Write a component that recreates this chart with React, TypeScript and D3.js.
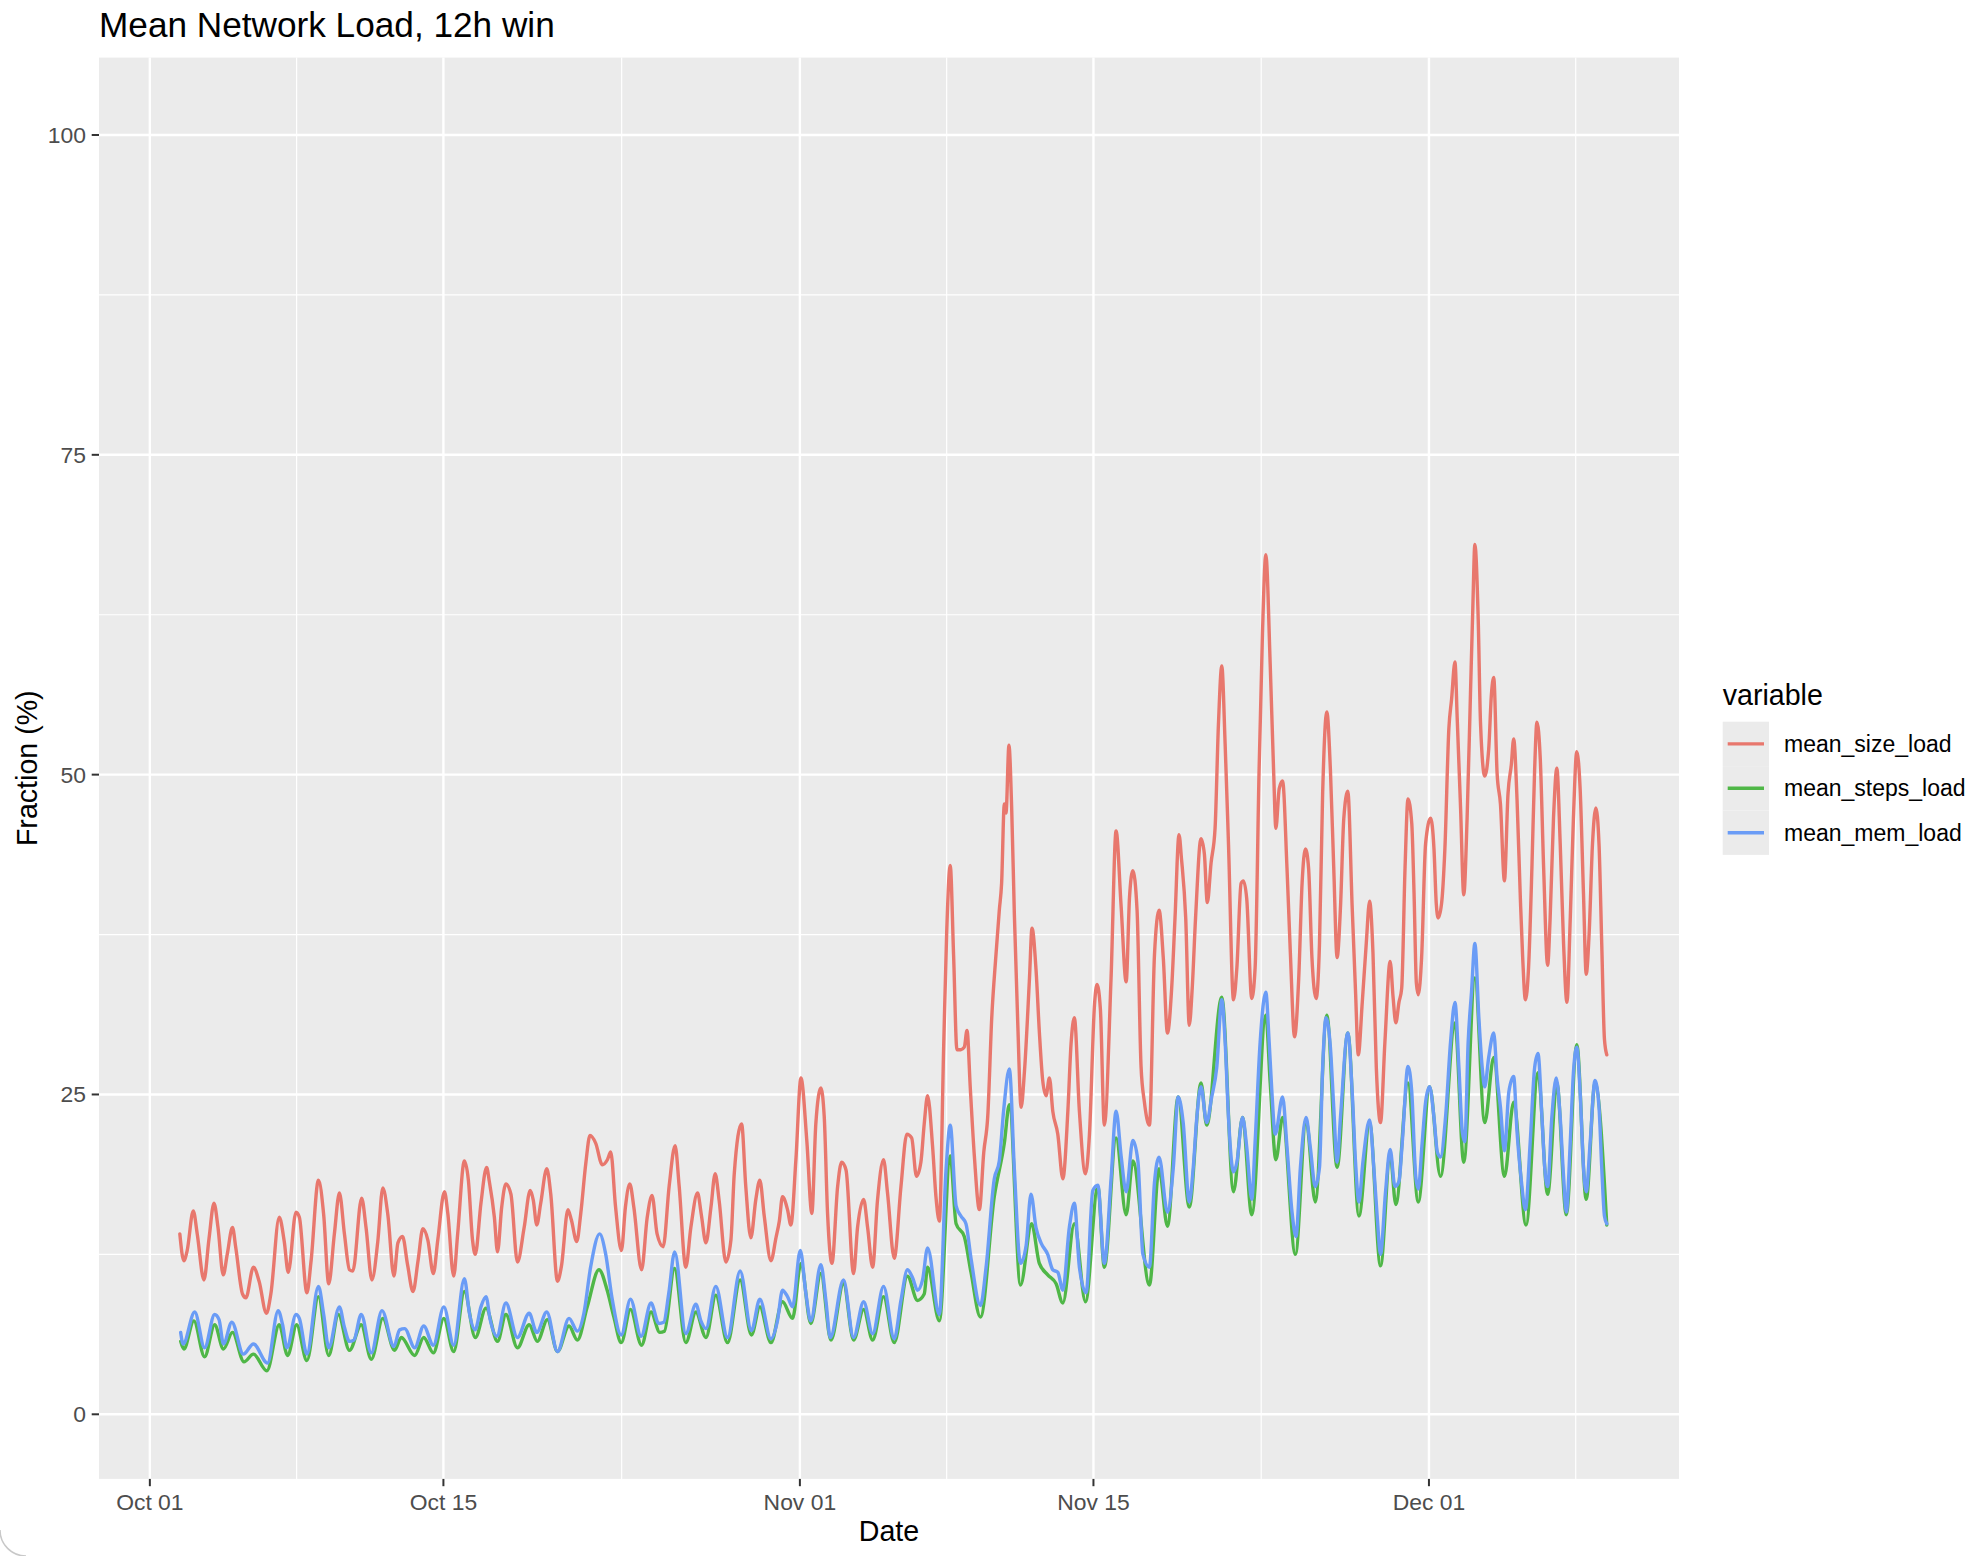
import React, { useEffect } from 'react';
import * as d3 from 'd3';

const W = 1986;
const H = 1556;
const BASE = Date.UTC(2019, 9, 1);
const DAY = 86400000;

const title = 'Mean Network Load, 12h win';
const xTitle = 'Date';
const yTitle = 'Fraction (%)';
const legendTitle = 'variable';

const xTickDates = ['2019-10-01', '2019-10-15', '2019-11-01', '2019-11-15', '2019-12-01'];
const xTickLabels = ['Oct 01', 'Oct 15', 'Nov 01', 'Nov 15', 'Dec 01'];
const xMinorDates = ['2019-10-08', '2019-10-23T12:00', '2019-11-08', '2019-11-23', '2019-12-08'];
const yTicks = [0, 25, 50, 75, 100];
const yMinor = [12.5, 37.5, 62.5, 87.5];
const xDataRange = ['2019-10-02T00:00', '2019-12-09T12:00'];
const yDataRange = [0, 101];

const seriesNames = ['mean_size_load', 'mean_steps_load', 'mean_mem_load'];
const seriesColors = ['#E8776D', '#4FB747', '#6A9CF6'];

// [days since Oct 01 00:00, value %]
const sizeLoad: [number, number][] = [
  [1.43, 14.1], [1.62, 12.0], [1.78, 12.8], [2.07, 15.9], [2.26, 14.1], [2.58, 10.5], [2.82, 13.7], [3.06, 16.5],
  [3.25, 14.6], [3.5, 10.9], [3.69, 12.5], [3.94, 14.6], [4.1, 13.0], [4.42, 9.4], [4.58, 9.1], [4.94, 11.5],
  [5.21, 10.4], [5.56, 7.9], [5.77, 9.4], [6.17, 15.4], [6.41, 13.5], [6.6, 11.1], [6.97, 15.8], [7.13, 15.4],
  [7.49, 9.5], [7.69, 12.0], [8.04, 18.3], [8.29, 15.6], [8.53, 10.2], [8.8, 14.1], [9.04, 17.3], [9.28, 14.1],
  [9.52, 11.3], [9.68, 11.2], [10.1, 16.9], [10.31, 14.6], [10.59, 10.5], [10.87, 13.5], [11.11, 17.7], [11.35, 15.6],
  [11.64, 10.8], [11.83, 13.4], [12.05, 13.9], [12.29, 11.7], [12.55, 9.6], [12.79, 12.0], [13.02, 14.5], [13.26, 13.6],
  [13.52, 11.0], [13.73, 13.6], [14.05, 17.4], [14.21, 15.7], [14.49, 10.8], [14.68, 14.1], [15.0, 19.8], [15.19, 18.3],
  [15.39, 13.6], [15.52, 12.5], [15.79, 16.5], [16.06, 19.3], [16.19, 18.2], [16.43, 15.4], [16.58, 12.7], [16.78, 16.2],
  [16.98, 18.0], [17.22, 17.2], [17.53, 11.9], [17.85, 14.6], [18.14, 17.5], [18.29, 16.7], [18.45, 14.8], [18.64, 16.5],
  [18.93, 19.2], [19.12, 17.2], [19.44, 10.4], [19.63, 11.6], [19.94, 16.0], [20.1, 15.2], [20.36, 13.5], [20.55, 15.7],
  [20.79, 19.6], [20.99, 21.8], [21.26, 21.2], [21.58, 19.5], [21.82, 19.9], [21.98, 20.5], [22.21, 16.2], [22.49, 12.8],
  [22.68, 16.2], [22.89, 18.0], [23.08, 16.2], [23.45, 11.3], [23.72, 15.4], [23.95, 17.1], [24.19, 14.1], [24.48, 13.1],
  [24.77, 17.9], [25.05, 21.0], [25.24, 17.9], [25.56, 11.5], [25.8, 14.6], [26.12, 17.3], [26.3, 15.6], [26.52, 13.4],
  [26.76, 16.2], [26.96, 18.8], [27.15, 16.7], [27.47, 11.9], [27.71, 13.6], [27.87, 18.8], [28.22, 22.7], [28.42, 17.8],
  [28.66, 13.8], [28.9, 16.8], [29.09, 18.3], [29.3, 15.5], [29.62, 12.0], [29.86, 13.8], [30.02, 15.1], [30.17, 17.0],
  [30.41, 16.0], [30.57, 14.8], [30.81, 19.9], [31.05, 26.3], [31.33, 21.4], [31.57, 15.7], [31.76, 22.7], [32.0, 25.5],
  [32.16, 23.3], [32.32, 15.7], [32.53, 11.8], [32.8, 17.8], [32.99, 19.7], [33.2, 19.1], [33.56, 11.0], [33.75, 14.6],
  [34.04, 16.8], [34.23, 14.6], [34.47, 11.5], [34.7, 16.7], [34.99, 19.9], [35.18, 17.3], [35.5, 12.2], [35.82, 17.8],
  [36.1, 21.9], [36.33, 21.6], [36.56, 18.6], [36.77, 19.7], [36.93, 22.7], [37.09, 24.9], [37.33, 20.9], [37.49, 17.0],
  [37.65, 15.1], [37.86, 28.9], [38.0, 37.6], [38.17, 42.9], [38.33, 35.9], [38.49, 28.5], [38.68, 28.5], [38.84, 28.7],
  [38.97, 30.0], [39.13, 25.4], [39.32, 20.2], [39.56, 16.0], [39.77, 20.5], [39.96, 23.3], [40.15, 31.0], [40.35, 35.9],
  [40.51, 39.4], [40.62, 41.5], [40.75, 47.7], [40.83, 47.0], [40.97, 52.3], [41.1, 47.4], [41.23, 39.0], [41.39, 30.6],
  [41.55, 24.0], [41.71, 26.8], [41.95, 34.1], [42.07, 38.0], [42.26, 34.8], [42.42, 29.9], [42.58, 26.1], [42.74, 24.9],
  [42.9, 26.3], [43.06, 23.7], [43.3, 21.9], [43.54, 18.4], [43.78, 23.7], [43.93, 28.9], [44.09, 31.0], [44.33, 23.7],
  [44.62, 18.8], [44.81, 21.9], [45.05, 32.0], [45.17, 33.6], [45.33, 31.7], [45.52, 22.6], [45.84, 34.1], [46.08, 45.6],
  [46.32, 39.7], [46.56, 33.8], [46.72, 40.4], [46.88, 42.5], [47.08, 39.4], [47.27, 27.2], [47.43, 24.4], [47.67, 22.6],
  [47.91, 35.9], [48.13, 39.4], [48.33, 35.7], [48.53, 29.8], [48.73, 33.3], [48.89, 38.8], [49.08, 45.3], [49.2, 43.4],
  [49.4, 38.8], [49.57, 30.4], [49.71, 33.3], [49.87, 38.8], [50.13, 45.0], [50.29, 43.8], [50.43, 40.0], [50.61, 43.1],
  [50.8, 45.8], [50.96, 53.9], [51.12, 58.5], [51.28, 52.4], [51.44, 44.6], [51.68, 32.4], [51.84, 34.9], [52.04, 41.5],
  [52.15, 41.7], [52.31, 40.3], [52.55, 32.5], [52.71, 34.9], [52.9, 50.4], [53.06, 61.0], [53.22, 67.2], [53.43, 58.6],
  [53.59, 50.4], [53.7, 45.8], [53.86, 48.9], [54.02, 49.5], [54.23, 42.7], [54.39, 36.1], [54.59, 29.5], [54.79, 34.1],
  [54.95, 41.5], [55.11, 44.2], [55.26, 42.7], [55.42, 35.7], [55.62, 32.5], [55.78, 36.8], [55.93, 48.5], [56.13, 54.9],
  [56.3, 50.4], [56.46, 42.7], [56.62, 35.7], [56.78, 39.6], [56.94, 46.6], [57.13, 48.7], [57.34, 39.6], [57.5, 33.0],
  [57.63, 28.1], [57.82, 32.2], [58.01, 36.8], [58.17, 40.1], [58.33, 36.1], [58.49, 27.1], [58.69, 22.8], [58.9, 29.1],
  [59.15, 35.4], [59.29, 32.6], [59.42, 30.6], [59.57, 32.2], [59.7, 33.3], [59.86, 42.7], [60.0, 48.1], [60.18, 46.2],
  [60.29, 40.7], [60.4, 33.7], [60.49, 32.8], [60.65, 35.7], [60.84, 44.6], [61.08, 46.6], [61.24, 44.2], [61.35, 39.9],
  [61.44, 38.8], [61.6, 39.9], [61.76, 44.2], [61.95, 53.6], [62.08, 55.9], [62.24, 58.8], [62.35, 54.3], [62.51, 47.3],
  [62.66, 40.6], [62.82, 46.6], [62.98, 56.3], [63.09, 62.9], [63.19, 68.0], [63.35, 62.1], [63.46, 54.0], [63.66, 49.9],
  [63.85, 52.0], [63.98, 56.3], [64.09, 57.6], [64.25, 50.1], [64.41, 47.7], [64.6, 41.7], [64.77, 48.5], [64.93, 50.8],
  [65.04, 52.8], [65.2, 48.1], [65.36, 40.3], [65.47, 35.7], [65.6, 32.4], [65.75, 34.9], [65.91, 42.7], [66.04, 50.4],
  [66.15, 54.1], [66.31, 51.2], [66.47, 42.7], [66.66, 35.1], [66.78, 38.8], [66.94, 46.6], [67.1, 50.5], [67.26, 44.6],
  [67.42, 36.8], [67.58, 32.2], [67.74, 38.8], [67.89, 46.6], [68.05, 51.8], [68.21, 48.9], [68.37, 40.7], [68.5, 34.4],
  [68.64, 37.6], [68.8, 44.6], [68.96, 47.4], [69.11, 44.6], [69.24, 36.8], [69.37, 29.3], [69.48, 28.1],
];

const stepsLoad: [number, number][] = [
  [1.47, 5.7], [1.62, 5.1], [2.1, 7.3], [2.61, 4.5], [3.09, 7.0], [3.51, 5.1], [3.94, 6.4], [4.49, 4.1],
  [4.94, 4.7], [5.58, 3.4], [6.17, 7.0], [6.57, 4.6], [7.0, 7.0], [7.49, 4.2], [8.04, 9.2], [8.53, 4.6],
  [8.99, 7.8], [9.52, 5.0], [10.08, 7.0], [10.56, 4.3], [11.11, 7.5], [11.67, 5.0], [11.99, 6.0], [12.63, 4.6],
  [13.06, 6.0], [13.52, 4.8], [14.02, 7.5], [14.49, 4.9], [15.0, 9.6], [15.52, 6.0], [16.03, 8.3], [16.58, 5.7],
  [16.98, 7.8], [17.53, 5.2], [18.09, 7.0], [18.48, 5.7], [18.96, 7.4], [19.44, 4.9], [19.99, 6.9], [20.39, 5.8],
  [20.86, 8.4], [21.42, 11.3], [21.81, 9.7], [22.13, 7.6], [22.48, 5.6], [22.92, 8.2], [23.45, 5.4], [23.9, 8.0],
  [24.32, 6.4], [24.54, 6.5], [25.02, 11.4], [25.56, 5.6], [26.04, 8.0], [26.52, 6.0], [26.99, 9.3], [27.55, 5.6],
  [28.15, 10.5], [28.69, 6.2], [29.09, 8.4], [29.62, 5.6], [30.17, 8.8], [30.65, 7.5], [31.05, 11.8], [31.52, 7.1],
  [32.0, 11.0], [32.48, 5.8], [33.08, 10.2], [33.56, 5.8], [34.04, 8.2], [34.47, 5.8], [34.99, 9.2], [35.5, 5.6],
  [36.13, 10.8], [36.61, 8.9], [36.93, 9.4], [37.09, 11.5], [37.65, 7.3], [38.17, 20.2], [38.45, 14.9], [38.84, 13.9],
  [39.16, 11.1], [39.61, 7.6], [40.27, 17.0], [40.75, 21.2], [40.99, 24.2], [41.52, 10.1], [42.05, 14.9], [42.42, 11.8],
  [42.82, 10.9], [43.22, 10.2], [43.54, 8.7], [44.09, 14.9], [44.62, 8.8], [45.21, 17.8], [45.52, 11.5], [46.08, 21.6],
  [46.56, 15.6], [46.88, 19.8], [47.67, 10.1], [48.13, 19.2], [48.53, 14.7], [49.04, 24.8], [49.57, 16.2], [50.13, 25.9],
  [50.4, 22.6], [51.12, 32.6], [51.68, 17.4], [52.11, 23.2], [52.55, 15.6], [53.22, 31.2], [53.43, 25.9], [53.7, 19.9],
  [54.02, 23.2], [54.63, 12.5], [55.14, 23.0], [55.58, 16.6], [56.13, 31.2], [56.62, 19.3], [57.13, 29.8], [57.66, 15.5],
  [58.17, 22.8], [58.69, 11.6], [59.15, 20.3], [59.42, 16.4], [60.0, 25.9], [60.49, 16.6], [61.03, 25.6], [61.55, 18.6],
  [62.24, 30.6], [62.66, 19.7], [63.19, 34.1], [63.66, 22.8], [64.09, 27.9], [64.6, 18.6], [65.04, 24.4], [65.63, 14.8],
  [66.2, 26.7], [66.66, 17.2], [67.1, 25.9], [67.55, 15.6], [68.05, 28.9], [68.5, 16.8], [68.92, 25.9], [69.48, 14.8],
];

const memLoad: [number, number][] = [
  [1.47, 6.4], [1.59, 5.5], [2.14, 8.0], [2.61, 5.2], [3.09, 7.8], [3.3, 7.4], [3.51, 5.5], [3.91, 7.2],
  [4.46, 4.7], [4.94, 5.5], [5.61, 4.0], [6.12, 8.1], [6.33, 7.0], [6.54, 5.2], [6.97, 7.8], [7.13, 7.5],
  [7.49, 4.7], [8.04, 10.0], [8.29, 7.8], [8.53, 5.2], [9.04, 8.4], [9.28, 6.8], [9.52, 5.7], [9.73, 5.8],
  [10.08, 7.8], [10.56, 4.8], [11.07, 8.1], [11.64, 5.3], [11.91, 6.6], [12.15, 6.7], [12.63, 5.2], [13.06, 6.9],
  [13.52, 5.4], [14.02, 8.4], [14.49, 5.4], [15.0, 10.6], [15.24, 7.9], [15.51, 6.6], [15.79, 8.4], [16.03, 9.2],
  [16.23, 7.4], [16.55, 6.1], [16.98, 8.7], [17.53, 6.0], [18.09, 7.9], [18.45, 6.4], [18.93, 8.0], [19.44, 4.9],
  [19.99, 7.5], [20.39, 6.5], [20.7, 7.9], [21.02, 11.5], [21.45, 14.1], [21.73, 12.6], [22.05, 9.0], [22.48, 6.2],
  [22.92, 9.0], [23.43, 6.1], [23.9, 8.7], [24.27, 7.1], [24.51, 7.2], [24.75, 9.5], [25.03, 12.7], [25.56, 6.3],
  [26.04, 8.6], [26.28, 7.3], [26.52, 6.7], [26.99, 10.0], [27.55, 6.0], [28.15, 11.2], [28.69, 6.55], [29.09, 9.0],
  [29.62, 5.9], [29.93, 7.3], [30.17, 9.7], [30.41, 9.2], [30.65, 8.4], [31.02, 12.8], [31.29, 9.4], [31.52, 7.3],
  [32.0, 11.7], [32.24, 8.9], [32.45, 6.0], [33.08, 10.5], [33.56, 6.0], [34.04, 8.8], [34.47, 6.3], [34.99, 10.0],
  [35.5, 5.9], [35.82, 8.9], [36.13, 11.3], [36.37, 10.7], [36.61, 9.7], [36.85, 10.5], [37.09, 13.0], [37.65, 7.8],
  [37.97, 19.1], [38.17, 22.6], [38.45, 16.3], [38.68, 15.5], [38.92, 14.9], [39.16, 12.2], [39.61, 8.5], [39.88, 11.5],
  [40.27, 18.4], [40.51, 19.8], [40.72, 23.8], [40.99, 27.0], [41.23, 19.1], [41.52, 11.8], [41.79, 13.2], [42.02, 17.2],
  [42.26, 14.6], [42.5, 13.4], [42.82, 12.5], [43.06, 11.3], [43.3, 11.1], [43.54, 9.7], [43.85, 14.6], [44.09, 16.5],
  [44.33, 11.5], [44.65, 9.5], [44.97, 17.5], [45.21, 17.9], [45.52, 11.8], [45.84, 18.4], [46.08, 23.7], [46.32, 20.2],
  [46.56, 17.4], [46.88, 21.4], [47.12, 19.8], [47.36, 12.5], [47.67, 11.5], [47.91, 18.1], [48.13, 20.1], [48.53, 15.8],
  [48.81, 19.3], [49.04, 24.8], [49.28, 22.8], [49.57, 16.6], [49.76, 19.3], [49.93, 23.2], [50.13, 25.6], [50.4, 22.8],
  [50.64, 24.8], [50.88, 27.1], [51.12, 32.4], [51.28, 29.1], [51.44, 23.2], [51.68, 18.95], [51.84, 19.7], [52.11, 23.2],
  [52.31, 20.9], [52.55, 16.8], [52.71, 21.3], [52.95, 29.1], [53.22, 33.0], [53.38, 29.1], [53.51, 25.2], [53.67, 21.9],
  [54.02, 24.8], [54.23, 20.9], [54.47, 15.8], [54.66, 13.9], [54.87, 19.3], [55.14, 23.2], [55.34, 20.9], [55.58, 17.8],
  [55.78, 19.3], [55.93, 27.1], [56.09, 31.0], [56.3, 28.7], [56.46, 24.0], [56.62, 19.7], [56.78, 23.2], [57.13, 29.8],
  [57.34, 25.2], [57.5, 19.7], [57.66, 16.6], [57.85, 19.7], [58.17, 23.0], [58.37, 19.3], [58.53, 15.5], [58.69, 12.5],
  [58.93, 17.4], [59.15, 20.7], [59.38, 17.8], [59.57, 18.2], [59.73, 21.3], [60.0, 27.2], [60.18, 25.2], [60.37, 18.6],
  [60.49, 17.6], [60.68, 21.3], [60.84, 24.4], [61.03, 25.6], [61.24, 23.2], [61.4, 20.5], [61.55, 20.1], [61.79, 23.2],
  [62.03, 29.1], [62.24, 32.2], [62.43, 27.1], [62.59, 22.1], [62.71, 21.3], [62.87, 29.1], [63.03, 33.0], [63.19, 36.8],
  [63.38, 31.0], [63.54, 27.1], [63.66, 25.6], [63.85, 27.9], [64.09, 29.8], [64.25, 26.3], [64.41, 24.0], [64.6, 20.6],
  [64.81, 25.2], [65.04, 26.4], [65.2, 22.1], [65.41, 18.2], [65.6, 16.0], [65.83, 21.3], [66.04, 27.1], [66.2, 28.2],
  [66.39, 23.2], [66.52, 19.3], [66.66, 17.8], [66.86, 23.2], [67.07, 26.3], [67.26, 23.2], [67.42, 18.6], [67.55, 15.8],
  [67.74, 21.3], [67.89, 26.7], [68.05, 28.7], [68.21, 25.2], [68.37, 19.3], [68.5, 17.4], [68.69, 21.3], [68.92, 26.1],
  [69.11, 24.0], [69.24, 19.3], [69.37, 15.5], [69.48, 14.9],
];

const seriesData = [sizeLoad, stepsLoad, memLoad];

const FONT = '"Liberation Sans", Arial, Helvetica, sans-serif';

const toDate = (d: number) => new Date(BASE + d * DAY);
const parse = (s: string) => new Date(s + (s.includes('T') ? ':00Z' : 'T00:00:00Z'));

export default function App() {
  useEffect(() => {
    document.body.style.margin = '0';
    document.body.style.background = '#ffffff';
  }, []);

  const panel = { left: 99, right: 1679, top: 57.6, bottom: 1478.9 };

  const x0 = parse(xDataRange[0]).getTime();
  const x1 = parse(xDataRange[1]).getTime();
  const xPad = (x1 - x0) * 0.05;
  const x = d3.scaleUtc().domain([new Date(x0 - xPad), new Date(x1 + xPad)]).range([panel.left, panel.right]);

  const yPad = (yDataRange[1] - yDataRange[0]) * 0.05;
  const y = d3.scaleLinear().domain([yDataRange[0] - yPad, yDataRange[1] + yPad]).range([panel.bottom, panel.top]);

  const line = d3
    .line<[number, number]>()
    .x((p) => x(toDate(p[0])))
    .y((p) => y(p[1]))
    .curve(d3.curveMonotoneX);

  const majorX = xTickDates.map(parse);
  const minorX = xMinorDates.map(parse);

  const legendX = 1722.7;
  const legendKeyTop = 721.7;
  const keyH = 44.4;

  return (
    <svg width={W} height={H} style={{ position: 'absolute', left: 0, top: 0, background: '#fff' }} fontFamily={FONT}>
      <rect x={0} y={0} width={W} height={H} fill="#ffffff" />
      <text x={panel.left} y={37} fontSize={35.2} fill="#000">{title}</text>

      <rect x={panel.left} y={panel.top} width={panel.right - panel.left} height={panel.bottom - panel.top} fill="#EBEBEB" />

      {yMinor.map((v) => (
        <line key={'ym' + v} x1={panel.left} x2={panel.right} y1={y(v)} y2={y(v)} stroke="#fff" strokeWidth={1.2} />
      ))}
      {minorX.map((d, i) => (
        <line key={'xm' + i} x1={x(d)} x2={x(d)} y1={panel.top} y2={panel.bottom} stroke="#fff" strokeWidth={1.2} />
      ))}
      {yTicks.map((v) => (
        <line key={'yM' + v} x1={panel.left} x2={panel.right} y1={y(v)} y2={y(v)} stroke="#fff" strokeWidth={2.4} />
      ))}
      {majorX.map((d, i) => (
        <line key={'xM' + i} x1={x(d)} x2={x(d)} y1={panel.top} y2={panel.bottom} stroke="#fff" strokeWidth={2.4} />
      ))}

      {seriesData.map((s, i) => (
        <path key={seriesNames[i]} d={line(s) || ''} fill="none" stroke={seriesColors[i]} strokeWidth={3.4} strokeLinejoin="round" strokeLinecap="round" />
      ))}

      {yTicks.map((v) => (
        <g key={'yt' + v}>
          <line x1={panel.left - 7.3} x2={panel.left} y1={y(v)} y2={y(v)} stroke="#333" strokeWidth={2} />
          <text x={panel.left - 13} y={y(v)} dy="0.35em" textAnchor="end" fontSize={22.9} fill="#4D4D4D">{v}</text>
        </g>
      ))}
      {majorX.map((d, i) => (
        <g key={'xt' + i}>
          <line x1={x(d)} x2={x(d)} y1={panel.bottom} y2={panel.bottom + 7.3} stroke="#333" strokeWidth={2} />
          <text x={x(d)} y={panel.bottom + 31} textAnchor="middle" fontSize={22.9} fill="#4D4D4D">{xTickLabels[i]}</text>
        </g>
      ))}

      <text x={(panel.left + panel.right) / 2} y={1541} textAnchor="middle" fontSize={28.6} fill="#000">{xTitle}</text>
      <text transform={`translate(27,${(panel.top + panel.bottom) / 2}) rotate(-90)`} dy="0.35em" textAnchor="middle" fontSize={28.6} fill="#000">{yTitle}</text>

      <text x={legendX} y={705} fontSize={28.6} fill="#000">{legendTitle}</text>
      {seriesNames.map((n, i) => {
        const cy = legendKeyTop + keyH * i + keyH / 2;
        return (
          <g key={'lg' + n}>
            <rect x={legendX} y={legendKeyTop + keyH * i} width={46.3} height={keyH} fill="#EBEBEB" />
            <line x1={legendX + 5} x2={legendX + 41.3} y1={cy} y2={cy} stroke={seriesColors[i]} strokeWidth={3.4} />
            <text x={1784} y={cy} dy="0.35em" fontSize={23} fill="#000">{n}</text>
          </g>
        );
      })}

      <path d="M0,1530 A26,26 0 0 0 26,1556" fill="none" stroke="#c8c8c8" strokeWidth={1.5} />
    </svg>
  );
}
